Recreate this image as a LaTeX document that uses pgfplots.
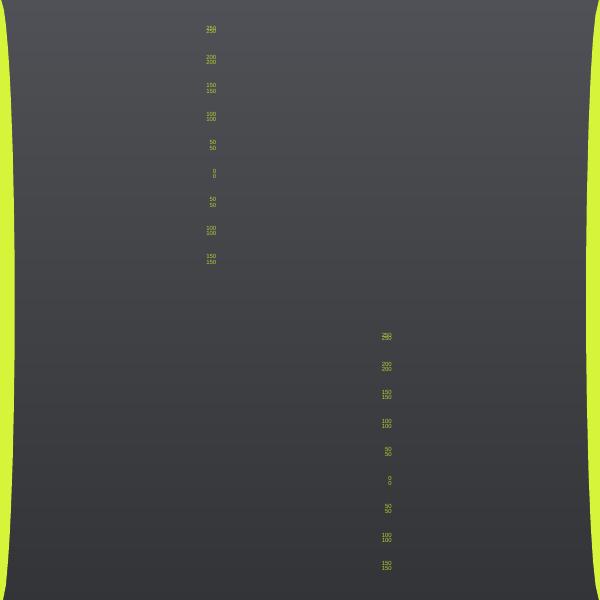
\documentclass[border=0pt]{standalone}
\usepackage{fontspec}
\setmainfont{Liberation Sans}
\usepackage{pgfplots}
\pgfplotsset{compat=1.18}
\definecolor{bgtop}{RGB}{80,81,86}
\definecolor{bgbot}{RGB}{51,52,55}
\definecolor{lime}{RGB}{214,245,58}
\definecolor{lbl}{RGB}{182,208,52}
\pgfplotsset{
  panel/.style={
    anchor=south west, scale only axis, width=1bp, height=239.4bp,
    xmin=0, xmax=1, ymin=-165, ymax=255,
    axis line style={draw=none}, tick style={draw=none}, major tick length=0pt,
    xtick=\empty,
    ytick={250,200,150,100,50,0,-50,-100,-150},
    yticklabels={250,200,150,100,50,0,50,100,150},
    extra y ticks={245,191.2,141.2,91.2,41.2,-8.8,-58.8,-108.8,-158.8},
    extra y tick labels={250,200,150,100,50,0,50,100,150},
    /pgf/number format/assume math mode=true,
    yticklabel style={font=\fontsize{6}{6}\selectfont, text=lbl, inner sep=0pt, anchor=east},
  }
}
\begin{document}
\begin{tikzpicture}
\begin{axis}[name=main, at={(0,0)}, anchor=south west, scale only axis,
  width=600bp, height=600bp, xmin=0, xmax=600, ymin=0, ymax=600, hide axis]
\addplot[draw=none, top color=bgtop, bottom color=bgbot] coordinates
  {(0,0) (600,0) (600,600) (0,600) (0,0)};
% left lime edge (y measured upward)
\addplot[draw=none, fill=lime] coordinates {
  (0,600) (1.2,600) (3.9,590) (5.9,575) (8.1,550) (9.7,525) (10.9,500)
  (12.7,450) (13.8,400) (14.5,350) (14.7,295) (14.5,240) (13.8,190)
  (12.7,140) (10.9,90) (9.7,65) (8.1,40) (5.9,15) (3.0,0) (0,0)};
% right lime edge
\addplot[draw=none, fill=lime] coordinates {
  (600,600) (598.9,600) (595.5,585) (592.9,560) (590.7,525) (588.6,475)
  (586.8,400) (586.2,350) (586.0,300) (586.2,250) (586.8,200) (588.6,125)
  (590.7,75) (592.9,40) (595.5,15) (598.9,0) (600,0)};
\end{axis}
\begin{axis}[panel, at={(216.5bp,334.5bp)}]
\end{axis}
\begin{axis}[panel, at={(392bp,27.95bp)}]
\end{axis}
\pgfresetboundingbox
\path (main.south west) rectangle (main.north east);
\end{tikzpicture}
\end{document}
